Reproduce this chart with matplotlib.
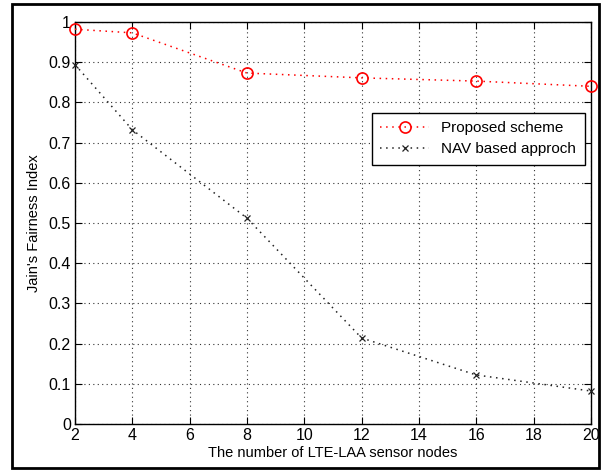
import matplotlib.pyplot as plt
from matplotlib.patches import Rectangle

nodes = [2, 4, 8, 12, 16, 20]
proposed = [0.982, 0.973, 0.873, 0.861, 0.853, 0.840]
nav = [0.894, 0.732, 0.512, 0.214, 0.122, 0.082]
xticks = [2, 4, 6, 8, 10, 12, 14, 16, 18, 20]
yticks = [0, 0.1, 0.2, 0.3, 0.4, 0.5, 0.6, 0.7, 0.8, 0.9, 1]
ytick_labels = ['0', '0.1', '0.2', '0.3', '0.4', '0.5', '0.6', '0.7', '0.8', '0.9', '1']

plt.rcParams['font.family'] = ['Liberation Sans', 'DejaVu Sans']

fig = plt.figure(figsize=(6.12, 4.71), dpi=100)
ax = fig.add_axes([0.1225, 0.0998, 0.843, 0.8535])

dots = (0, (1, 3))
ax.plot(nodes, proposed, color='red', linestyle=dots, lw=1.1, marker='o',
        markersize=8, markerfacecolor='none', markeredgecolor='red',
        markeredgewidth=1.2, label='Proposed scheme', clip_on=False, zorder=3)
ax.plot(nodes, nav, color='#222222', linestyle=dots, lw=1.1, marker='x',
        markersize=5, markeredgewidth=0.9, label='NAV based approch',
        clip_on=False, zorder=3)

ax.set_xlim(2, 20)
ax.set_ylim(0, 1)
ax.set_xticks(xticks)
ax.set_yticks(yticks)
ax.set_yticklabels(ytick_labels)
ax.grid(True, color='#333333', linestyle=(0, (1, 3)), lw=0.8)
ax.tick_params(direction='in', top=True, right=True, length=5, width=0.8,
               labelsize=11.5, pad=3)
for s in ax.spines.values():
    s.set_linewidth(1.0)

ax.set_xlabel('The number of LTE-LAA sensor nodes', fontsize=10.5, labelpad=2)
ax.set_ylabel("Jain's Fairness Index", fontsize=10.5, labelpad=5)

leg = ax.legend(loc='upper right', bbox_to_anchor=(0.988, 0.774), fontsize=11,
                fancybox=False, framealpha=1, edgecolor='black',
                handlelength=3.2, borderpad=0.55, labelspacing=0.45,
                borderaxespad=0)
leg.get_frame().set_linewidth(1.0)

fig.patches.append(Rectangle((12 / 612, 3 / 471), 587 / 612, 464 / 471,
                             transform=fig.transFigure, fill=False,
                             edgecolor='black', lw=2))

fig.savefig('out.png', dpi=100)
